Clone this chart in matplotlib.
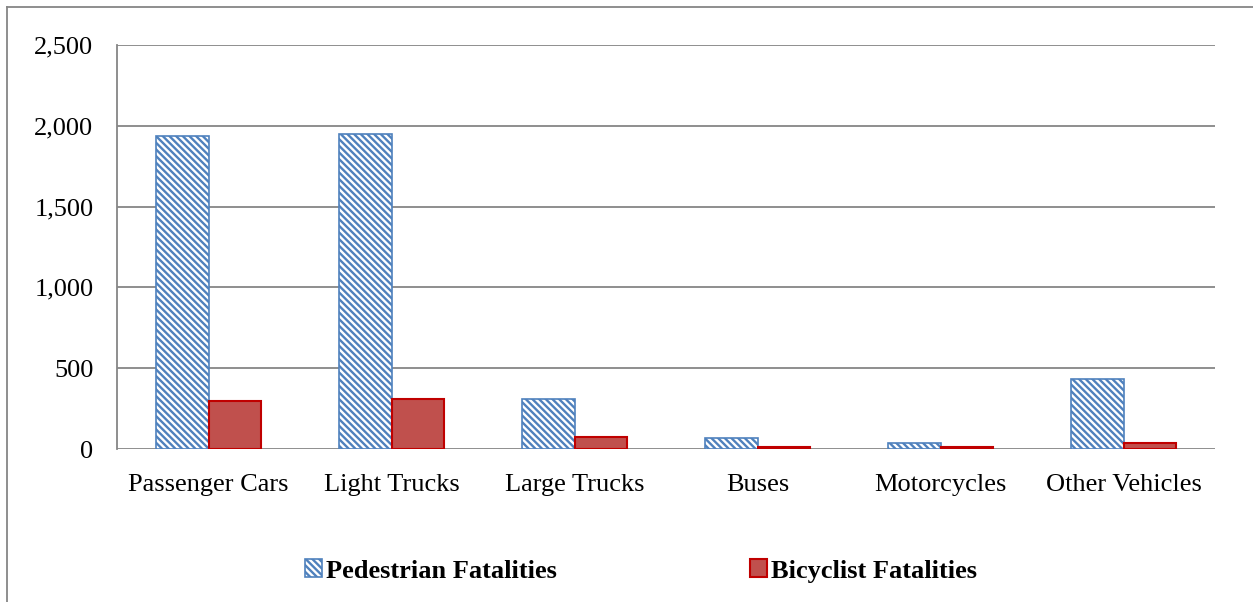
import numpy as np
import matplotlib
matplotlib.use("Agg")
import matplotlib.pyplot as plt
from matplotlib.lines import Line2D
from matplotlib.ticker import FuncFormatter

categories = ['Passenger Cars', 'Light Trucks', 'Large Trucks', 'Buses',
              'Motorcycles', 'Other Vehicles']
pedestrian = [1939, 1949, 311, 68, 35, 435]
bicyclist = [297, 311, 76, 14, 10, 37]
y_ticks = [0, 500, 1000, 1500, 2000, 2500]

plt.rcParams['font.family'] = ['Liberation Serif', 'DejaVu Serif']
plt.rcParams['hatch.linewidth'] = 1.7
plt.rcParams['hatch.color'] = '#4F81BD'

fig = plt.figure(figsize=(12.53, 6.02), dpi=100)
ax = fig.add_axes([117 / 1253, 1 - 449 / 602, (1215 - 117) / 1253, (449 - 45) / 602])

x = np.arange(len(categories))
w = 0.285
ax.bar(x - w / 2, pedestrian, w, color='white', edgecolor='#4F81BD',
       hatch='\\' * 5, linewidth=1.2, label='Pedestrian Fatalities', zorder=3)
ax.bar(x + w / 2, bicyclist, w, color='#C0504D', edgecolor='#C00000',
       linewidth=1.5, label='Bicyclist Fatalities', zorder=3)

ax.set_xlim(-0.5, len(categories) - 0.5)
ax.set_ylim(0, 2500)
ax.set_yticks(y_ticks)
ax.yaxis.set_major_formatter(FuncFormatter(lambda v, p: f'{int(v):,}'))
ax.set_xticks(x)
ax.set_xticklabels(categories)
ax.tick_params(axis='both', length=0, labelsize=19)
ax.tick_params(axis='y', pad=17)
ax.tick_params(axis='x', pad=18)
ax.grid(axis='y', color='#868686', linewidth=1.3, zorder=0)
for s in ['top', 'right', 'bottom']:
    ax.spines[s].set_visible(False)
ax.spines['left'].set_color('#868686')
ax.spines['left'].set_linewidth(1.3)

leg = fig.legend(loc='center', bbox_to_anchor=(641 / 1253, 1 - 571 / 602), ncol=2,
                 frameon=False, prop={'weight': 'bold', 'size': 19},
                 handlelength=0.65, handleheight=0.65, handletextpad=0.15,
                 columnspacing=7.3)

# outer frame (left and top edges)
fig.add_artist(Line2D([7 / 1253, 7 / 1253], [0, 1 - 7 / 602], color='#868686', lw=1.3))
fig.add_artist(Line2D([7 / 1253, 1], [1 - 7 / 602, 1 - 7 / 602], color='#868686', lw=1.3))

fig.savefig('out.png', dpi=100)
